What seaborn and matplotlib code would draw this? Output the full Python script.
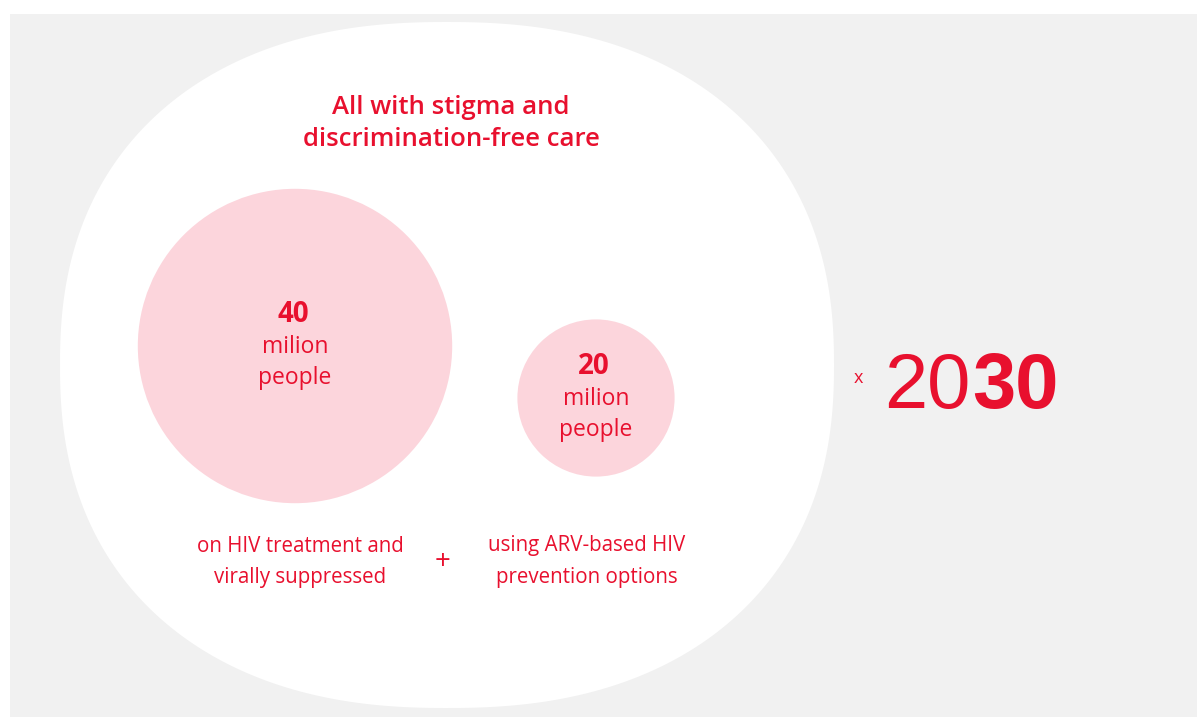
import matplotlib
matplotlib.use("Agg")
import matplotlib.pyplot as plt
from matplotlib.patches import Rectangle, Polygon
import seaborn as sns
import pandas as pd
import numpy as np

# ---- data ----
values = [40, 20]                       # million people
value_labels = ["40", "20"]
unit_label = "milion\npeople"
captions = ["on HIV treatment and\nvirally suppressed",
            "using ARV-based HIV\nprevention options"]
title_text = "All with stigma and\ndiscrimination-free care"
year_light = "20"
year_bold = "30"

# ---- style ----
sns.set_theme(style="white")
plt.rcParams['font.family'] = ['Open Sans', 'DejaVu Sans']

RED = "#e8102e"
PINK = "#fcd5dc"
GREY = "#f1f1f1"

W, H = 1198, 717
fig = plt.figure(figsize=(W / 100, H / 100), dpi=100, facecolor="white")
ax = fig.add_axes([0, 0, 1, 1])

# grey panel + big white rounded blob (superellipse)
ax.add_patch(Rectangle((10, 14), 1187, 703, facecolor=GREY, edgecolor="none", zorder=0))
t = np.linspace(0, 2 * np.pi, 500)
n = 2.3
ex = 447 + 387 * np.sign(np.cos(t)) * np.abs(np.cos(t)) ** (2 / n)
ey = 365 + 343 * np.sign(np.sin(t)) * np.abs(np.sin(t)) ** (2 / n)
ax.add_patch(Polygon(np.column_stack([ex, ey]), closed=True,
                     facecolor="white", edgecolor="none", zorder=1))

# circles: radius proportional to value
cx = [295, 596]
cy = [346, 398]
r_per_unit = 3.93  # px per million
px_to_pt = 72 / 100
sizes = {v: (2 * v * r_per_unit * px_to_pt) ** 2 for v in values}
df = pd.DataFrame({"x": cx, "y": cy, "value": values})
sns.scatterplot(data=df, x="x", y="y", size="value", sizes=sizes,
                color=PINK, linewidth=0, legend=False, ax=ax, zorder=2)
ax.set_xlim(0, W)
ax.set_ylim(H, 0)
ax.set_aspect("equal")
ax.axis("off")


def lines(x, y0, text, dy, **kw):
    for i, ln in enumerate(text.split("\n")):
        ax.text(x, y0 + i * dy, ln, ha="center", va="center", color=RED,
                zorder=3, **kw)


# title
lines(451, 107, title_text, 32, fontsize=18.5, fontweight="semibold")

# circle labels
for x, y, lab in zip(cx, cy, value_labels):
    ax.text(x - 2, y - 32, lab, ha="center", va="center", color=RED,
            fontsize=20, fontweight="bold", zorder=3)
    lines(x, y + 1, unit_label, 30.5, fontsize=16.5)

# captions
cap_x = [300, 587]
for x, cap in zip(cap_x, captions):
    lines(x, 546, cap, 31, fontsize=14.8)
ax.text(443, 562, "+", ha="center", va="center", color=RED,
        fontsize=20, zorder=3)

# year
ax.text(858, 378, "x", ha="center", va="center", color=RED, fontsize=13, zorder=3)
ax.text(971, 408, year_light, ha="right", va="baseline", color=RED,
        fontsize=56, family="Liberation Sans", zorder=3)
ax.text(972, 408, year_bold, ha="left", va="baseline", color=RED,
        fontsize=56, fontweight="bold", family="Liberation Sans", zorder=3)

fig.savefig("out.png", dpi=100, facecolor="white")
